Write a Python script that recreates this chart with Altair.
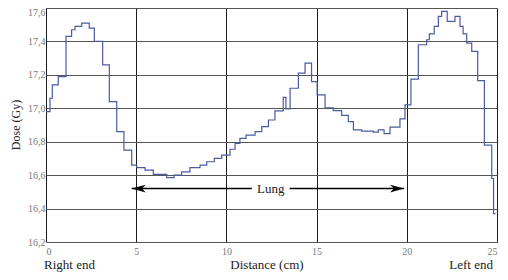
import altair as alt
import pandas as pd

# Dose profile (step curve)
dist_cm = [0.0, 0.22, 0.35, 0.68, 1.11, 1.42, 1.61, 1.98, 2.40, 2.68, 3.14, 3.51,
           3.92, 4.32, 4.75, 5.03, 5.49, 5.95, 6.69, 7.10, 7.52, 7.98, 8.54, 8.91,
           9.33, 9.74, 10.20, 10.48, 10.75, 11.09, 11.59, 11.96, 12.33, 12.69, 13.15,
           13.30, 13.53, 13.99, 14.36, 14.72, 15.03, 15.47, 15.92, 16.39, 16.76, 17.04,
           17.50, 18.14, 18.42, 18.74, 19.07, 19.62, 19.90, 20.23, 20.64, 21.10, 21.25,
           21.52, 21.75, 21.93, 22.24, 22.67, 22.95, 23.12, 23.32, 23.60, 23.93, 24.30,
           24.71, 24.81, 24.92]
dose_gy = [16.98, 17.06, 17.14, 17.19, 17.43, 17.47, 17.49, 17.51, 17.48, 17.40, 17.26, 17.04,
           16.86, 16.75, 16.66, 16.645, 16.63, 16.605, 16.585, 16.60, 16.62, 16.645, 16.66, 16.68,
           16.70, 16.72, 16.755, 16.79, 16.82, 16.84, 16.86, 16.89, 16.93, 16.985, 17.065,
           16.997, 17.12, 17.21, 17.27, 17.16, 17.08, 17.003, 16.986, 16.957, 16.92, 16.871,
           16.863, 16.857, 16.871, 16.848, 16.887, 16.937, 17.02, 17.175, 17.38, 17.41, 17.445,
           17.49, 17.55, 17.58, 17.52, 17.55, 17.49, 17.445, 17.39, 17.34, 17.165, 16.78,
           16.58, 16.37, 16.37]

x_ticks = [0, 5, 10, 15, 20, 25]
y_ticks = [16.2, 16.4, 16.6, 16.8, 17.0, 17.2, 17.4, 17.6]

# "Lung" annotation: arrow from / to (cm), at dose level
lung_label = "Lung"
lung_from = 4.75
lung_to = 19.85
lung_level = 16.52
lung_center = 12.46
lung_gap = 1.05

font = "Liberation Serif"

df = pd.DataFrame({"x": dist_cm, "y": dose_gy})

xscale = alt.Scale(domain=[0, 25], nice=False, zero=False)
yscale = alt.Scale(domain=[16.2, 17.6], nice=False, zero=False)

line = alt.Chart(df).mark_line(interpolate="step-after", color="#4b5aa3", strokeWidth=1.2).encode(
    x=alt.X("x:Q", scale=xscale,
            axis=alt.Axis(values=x_ticks, tickCount=20, title=None, ticks=False, domain=False,
                          grid=True, gridColor="#1a1a1a", gridWidth=1,
                          labelFont=font, labelFontSize=10, labelColor="#777",
                          labelPadding=4, labelOverlap=False)),
    y=alt.Y("y:Q", scale=yscale,
            axis=alt.Axis(values=y_ticks, tickCount=20, title=None, ticks=False, domain=False,
                          grid=True, gridColor="#555", gridWidth=1.2,
                          labelFont=font, labelFontSize=10, labelColor="#777",
                          labelPadding=1, labelOverlap=False,
                          labelOffset=alt.condition("datum.value > 17.5", alt.value(4), alt.value(0)),
                          labelExpr="replace(format(datum.value, '.1f'), '.', ',')")),
)

seg_df = pd.DataFrame({
    "x": [lung_from, lung_center + lung_gap],
    "x2": [lung_center - lung_gap, lung_to],
    "y": [lung_level, lung_level],
})
segs = alt.Chart(seg_df).mark_rule(color="black", strokeWidth=1.3).encode(
    x=alt.X("x:Q", scale=xscale), x2="x2:Q", y=alt.Y("y:Q", scale=yscale))

head_df = pd.DataFrame({"x": [lung_from, lung_to], "y": [lung_level, lung_level],
                        "dir": ["l", "r"]})
left_path = "M -1 0 L 1 -0.55 L 0.45 0 L 1 0.55 Z"
right_path = "M 1 0 L -1 -0.55 L -0.45 0 L -1 0.55 Z"
heads = alt.Chart(head_df).transform_calculate(
    xs="datum.dir == 'l' ? datum.x + 0.39 : datum.x - 0.39"
).mark_point(filled=True, color="black", opacity=1, size=200).encode(
    x=alt.X("xs:Q", scale=xscale), y=alt.Y("y:Q", scale=yscale),
    shape=alt.Shape("dir:N", scale=alt.Scale(domain=["l", "r"], range=[left_path, right_path]),
                    legend=None),
)

lung_df = pd.DataFrame({"x": [lung_center], "y": [lung_level], "t": [lung_label]})
lung = alt.Chart(lung_df).mark_text(font=font, fontSize=13, color="#222", baseline="middle").encode(
    x=alt.X("x:Q", scale=xscale), y=alt.Y("y:Q", scale=yscale), text="t:N")

right_end = alt.Chart(pd.DataFrame({"t": ["Right end"]})).mark_text(
    font=font, fontSize=13, color="#222", align="left", baseline="middle").encode(
    x=alt.value(-2), y=alt.value(257), text="t:N")
left_end = alt.Chart(pd.DataFrame({"t": ["Left end"]})).mark_text(
    font=font, fontSize=13, color="#222", align="right", baseline="middle").encode(
    x=alt.value(447), y=alt.value(257), text="t:N")
xtitle = alt.Chart(pd.DataFrame({"t": ["Distance (cm)"]})).mark_text(
    font=font, fontSize=13, color="#222", align="center", baseline="middle").encode(
    x=alt.value(221), y=alt.value(257), text="t:N")
ytitle = alt.Chart(pd.DataFrame({"t": ["Dose (Gy)"]})).mark_text(
    font=font, fontSize=12, color="#222", align="center", baseline="middle", angle=270).encode(
    x=alt.value(-30), y=alt.value(117), text="t:N")

chart = alt.layer(line, segs, heads, lung, right_end, left_end, xtitle, ytitle).properties(
    width=451, height=234,
    autosize=alt.AutoSizeParams(type="none"),
    padding={"left": 38, "top": 0, "right": 3, "bottom": 30},
).configure_view(stroke="black", strokeWidth=1.5).configure(background="white")

chart.save("out.html", embed_options={"renderer": "svg", "actions": False})
